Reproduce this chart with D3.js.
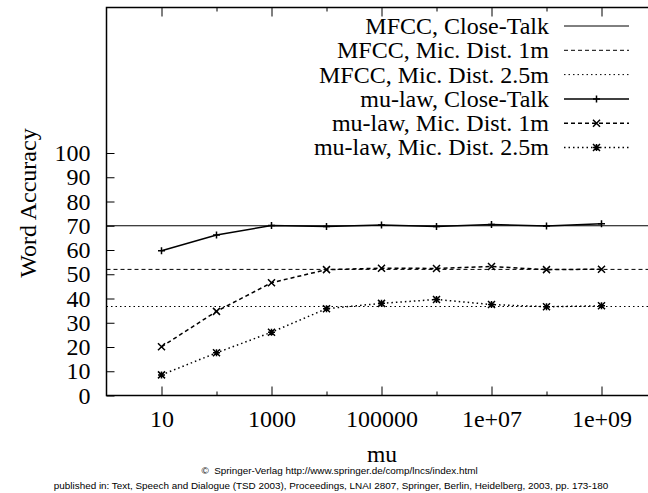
<!DOCTYPE html>
<html>
<head>
<meta charset="utf-8">
<script src="https://cdn.jsdelivr.net/npm/d3@7"></script>
<style>
  body { margin: 0; background: #fff; }
  svg { display: block; }
  text { font-family: "Liberation Serif", "Times New Roman", serif; fill: #000; }
  .foot { font-family: "Liberation Sans", Arial, sans-serif; white-space: pre; }
</style>
</head>
<body>
<svg></svg>
<script>
// mu values (x axis, log)
const muValues = [10, 100, 1000, 1e4, 1e5, 1e6, 1e7, 1e8, 1e9]
const xTickLabels = ['10', '1000', '100000', '1e+07', '1e+09']
const yTicks = [0, 10, 20, 30, 40, 50, 60, 70, 80, 90, 100]

// MFCC baselines (constant)
const mfccClose = 70
const mfcc1m = 52
const mfcc25m = 36.7

// mu-law series
const muClose = [59.7, 66.2, 70.1, 69.7, 70.3, 69.7, 70.5, 69.9, 70.8]
const mu1m = [20.1, 34.7, 46.5, 51.9, 52.5, 52.4, 53.2, 51.9, 52.1]
const mu25m = [8.5, 17.6, 26.1, 35.8, 38.0, 39.6, 37.5, 36.6, 37.0]

const legendLabels = [
    'MFCC, Close-Talk',
    'MFCC, Mic. Dist. 1m',
    'MFCC, Mic. Dist. 2.5m',
    'mu-law, Close-Talk',
    'mu-law, Mic. Dist. 1m',
    'mu-law, Mic. Dist. 2.5m'
]

let width = 648
let height = 493
let svg = d3.select('svg').attr('width', width).attr('height', height)

let pLeft = 106.5, pRight = 656.5, pTop = 7.5, pBottom = 395.5

let xScale = d3.scaleLog().domain([1, 1e10]).range([pLeft, pRight])
let yScale = d3.scaleLinear().domain([0, 160]).range([pBottom, pTop])

const dashes = ['none', '4,3', '1.5,3']
const markers = ['plus', 'cross', 'star']

// markers drawn as small paths
function markerPath(type, x, y) {
    let s = 3.5
    let p = ''
    if (type === 'plus' || type === 'star') {
        p += 'M' + (x - s) + ',' + y + 'H' + (x + s) + 'M' + x + ',' + (y - s) + 'V' + (y + s)
    }
    if (type === 'cross' || type === 'star') {
        p += 'M' + (x - s) + ',' + (y - s) + 'L' + (x + s) + ',' + (y + s)
        p += 'M' + (x - s) + ',' + (y + s) + 'L' + (x + s) + ',' + (y - s)
    }
    return p
}

// Axes
let xMajor = [10, 1000, 1e5, 1e7, 1e9]
let xMinor = [100, 1e4, 1e6, 1e8]

let xAxis = d3.axisBottom(xScale)
    .tickValues(xMajor)
    .tickSize(-9)
    .tickSizeOuter(0)
    .tickPadding(14.5)
    .tickFormat((d, i) => xTickLabels[i])
let gx = svg.append('g')
    .attr('transform', 'translate(0,' + pBottom + ')')
    .call(xAxis)
gx.select('.domain').remove()

let gxMinor = svg.append('g')
    .attr('transform', 'translate(0,' + pBottom + ')')
    .call(d3.axisBottom(xScale).tickValues(xMinor).tickSize(-4).tickSizeOuter(0).tickFormat(''))
gxMinor.select('.domain').remove()

// mirrored ticks on top
let gxTop = svg.append('g')
    .attr('transform', 'translate(0,' + pTop + ')')
    .call(d3.axisTop(xScale).tickValues(xMajor).tickSize(-9).tickSizeOuter(0).tickFormat(''))
gxTop.select('.domain').remove()
let gxTopMinor = svg.append('g')
    .attr('transform', 'translate(0,' + pTop + ')')
    .call(d3.axisTop(xScale).tickValues(xMinor).tickSize(-4).tickSizeOuter(0).tickFormat(''))
gxTopMinor.select('.domain').remove()

let gy = svg.append('g')
    .attr('transform', 'translate(' + pLeft + ',0)')
    .call(d3.axisLeft(yScale).tickValues(yTicks).tickSize(-8).tickSizeOuter(0).tickPadding(16))
gy.select('.domain').remove()

svg.selectAll('.tick line').attr('stroke', '#000').attr('stroke-width', 1)
svg.selectAll('.tick text')
    .style('font-family', '"Liberation Serif", serif')
    .style('font-size', '24px')

// frame
svg.append('rect')
    .attr('x', pLeft).attr('y', pTop)
    .attr('width', pRight - pLeft).attr('height', pBottom - pTop)
    .attr('fill', 'none').attr('stroke', '#000').attr('stroke-width', 1.5)

// MFCC horizontal lines
let mfcc = [mfccClose, mfcc1m, mfcc25m]
svg.selectAll('.mfcc')
    .data(mfcc)
    .enter()
    .append('line')
    .attr('class', 'mfcc')
    .attr('x1', pLeft).attr('x2', pRight)
    .attr('y1', (d) => yScale(d)).attr('y2', (d) => yScale(d))
    .attr('stroke', '#000')
    .attr('stroke-width', 1)
    .attr('stroke-dasharray', (d, i) => dashes[i])

// mu-law lines
let series = [muClose, mu1m, mu25m]
let line = d3.line()
    .x((d, i) => xScale(muValues[i]))
    .y((d) => yScale(d))

series.forEach((s, k) => {
    svg.append('path')
        .datum(s)
        .attr('d', line)
        .attr('fill', 'none')
        .attr('stroke', '#000')
        .attr('stroke-width', 1.5)
        .attr('stroke-dasharray', dashes[k])
    svg.append('path')
        .attr('d', s.map((v, i) => markerPath(markers[k], xScale(muValues[i]), yScale(v))).join(''))
        .attr('stroke', '#000')
        .attr('stroke-width', 1.5)
        .attr('fill', 'none')
})

// Legend
let legX = 549, lineX1 = 564, lineX2 = 629
legendLabels.forEach((lab, i) => {
    let y = 26 + i * 24.3
    svg.append('text')
        .attr('x', legX).attr('y', y)
        .attr('dy', '0.33em')
        .attr('text-anchor', 'end')
        .style('font-size', '24px')
        .text(lab)
    svg.append('line')
        .attr('x1', lineX1).attr('x2', lineX2)
        .attr('y1', y).attr('y2', y)
        .attr('stroke', '#000')
        .attr('stroke-width', i < 3 ? 1 : 1.5)
        .attr('stroke-dasharray', dashes[i % 3])
    if (i >= 3) {
        svg.append('path')
            .attr('d', markerPath(markers[i - 3], (lineX1 + lineX2) / 2, y))
            .attr('stroke', '#000').attr('stroke-width', 1.5)
    }
})

// Axis titles
svg.append('text')
    .attr('transform', 'translate(36,' + 203 + ') rotate(-90)')
    .attr('text-anchor', 'middle')
    .style('font-size', '24px')
    .text('Word Accuracy')

svg.append('text')
    .attr('x', 382).attr('y', 462)
    .attr('text-anchor', 'middle')
    .style('font-size', '23.5px')
    .text('mu')

// footer
svg.append('text')
    .attr('class', 'foot')
    .attr('x', 339.5).attr('y', 473.5)
    .attr('text-anchor', 'middle')
    .style('font-size', '9.9px')
    .text('\u00A9  Springer-Verlag http://www.springer.de/comp/lncs/index.html')

svg.append('text')
    .attr('class', 'foot')
    .attr('x', 331).attr('y', 488.5)
    .attr('text-anchor', 'middle')
    .style('font-size', '9.9px')
    .text('published in: Text, Speech and Dialogue (TSD 2003), Proceedings, LNAI 2807, Springer, Berlin, Heidelberg, 2003, pp. 173-180')
</script>
</body>
</html>
